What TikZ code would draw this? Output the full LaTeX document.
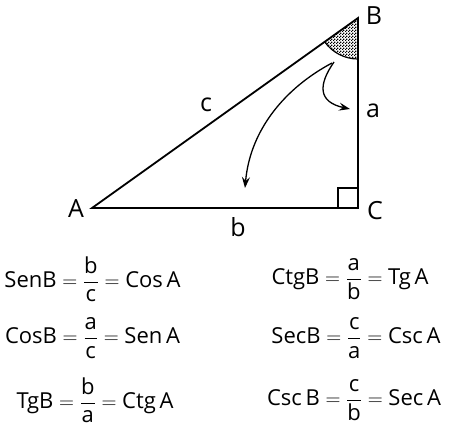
\documentclass[tikz,border=0pt]{standalone}
\usepackage{fontspec}
\setmainfont{Open Sans}
\usepackage{amsmath}
\usetikzlibrary{patterns,arrows.meta,calc}
\newcommand{\fr}[2]{\ensuremath{\dfrac{\mbox{#1}}{\mbox{#2}}}}
\pgfdeclarepatternformonly{finecheck}{\pgfpointorigin}{\pgfqpoint{3pt}{3pt}}{\pgfqpoint{3pt}{3pt}}{%
  \pgfpathrectangle{\pgfpointorigin}{\pgfqpoint{1.5pt}{1.5pt}}%
  \pgfpathrectangle{\pgfqpoint{1.5pt}{1.5pt}}{\pgfqpoint{1.5pt}{1.5pt}}%
  \pgfusepath{fill}}
\begin{document}
\begin{tikzpicture}[x=1pt,y=-1pt,
  edge/.style={line width=1.8pt},
  lbl/.style={font=\fontsize{25}{28}\selectfont, inner sep=0pt},
  eq/.style={font=\fontsize{22}{25}\selectfont, inner sep=0pt},
  arr/.style={line width=1.3pt,-{Stealth[length=11pt,width=8pt,inset=4pt]}}]
\useasboundingbox (0,0) rectangle (449,431);
\coordinate (A) at (92,208);
\coordinate (B) at (358,18);
\coordinate (C) at (358,208);
% angle at B
\fill[pattern=finecheck] (B) -- ($(B)+(144.5:41)$) arc[start angle=144.5,end angle=90,radius=41] -- cycle;
\draw[line width=1.2pt] ($(B)+(144.5:41)$) arc[start angle=144.5,end angle=90,radius=41];
\draw[edge] (A) -- (B) -- (C) -- cycle;
\draw[line width=1.2pt] (338,208) |- (358,188);
% arrows
\coordinate (s1) at (334,62);
\coordinate (t1) at (350,109);
\coordinate (s2) at (332,63);
\coordinate (t2) at (245,188);
\draw[arr] (s1) .. controls (318,85) and (318,102) .. (t1);
\draw[arr] (s2) .. controls (285,88) and (250,130) .. (t2);
% labels
\node[lbl] (lB) at (374,16) {B};
\node[lbl] (la) at (373,111) {a};
\node[lbl] (lc) at (206,105) {c};
\node[lbl] (lA) at (76,209) {A};
\node[lbl] (lC) at (375,211) {C};
\node[lbl] (lb) at (238,227) {b};
% equations
\node[eq] (e1) at (92.5,279) {SenB $=\fr{b}{c}=$ Cos\,A};
\node[eq] (e2) at (92.5,338) {CosB $=\fr{a}{c}=$ Sen\,A};
\node[eq] (e3) at (95,400) {TgB $=\fr{b}{a}=$ Ctg\,A};
\node[eq] (e4) at (350,279) {CtgB $=\fr{a}{b}=$ Tg\,A};
\node[eq] (e5) at (356,338) {SecB $=\fr{c}{a}=$ Csc\,A};
\node[eq] (e6) at (354,400) {Csc\,B $=\fr{c}{b}=$ Sec\,A};
\end{tikzpicture}
\end{document}
